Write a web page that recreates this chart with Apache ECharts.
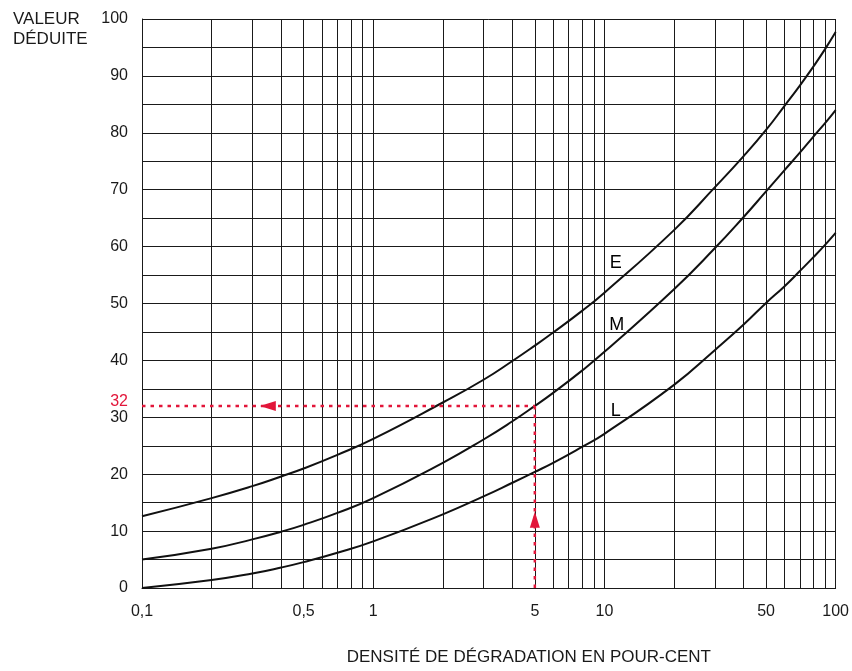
<!DOCTYPE html>
<html>
<head>
<meta charset="utf-8">
<script src="https://cdn.jsdelivr.net/npm/echarts@6/dist/echarts.min.js"></script>
<style>
  html, body { margin: 0; padding: 0; background: #fff; }
  #chart { width: 852px; height: 671px; }
</style>
</head>
<body>
<div id="chart"></div>
<script>
// Densité de dégradation (%), échelle logarithmique
const density = [0.1, 0.2, 0.3, 0.4, 0.5, 0.7, 1, 2, 3, 4, 5, 6, 8, 10, 20, 30, 40, 50, 60, 70, 80, 90, 100];
// Valeur déduite pour chaque courbe de sévérité
const curveE = [12.6, 15.8, 17.9, 19.6, 21.0, 23.4, 26.2, 32.6, 36.6, 39.9, 42.6, 44.9, 48.7, 51.9, 62.9, 70.4, 75.9, 80.5, 84.7, 88.3, 91.6, 94.7, 97.7];
const curveM = [5.0, 6.9, 8.55, 9.9, 11.1, 13.2, 15.8, 22.0, 26.1, 29.3, 32.0, 34.3, 38.2, 41.5, 52.5, 59.7, 65.2, 69.7, 73.4, 76.5, 79.3, 81.7, 84.0];
const curveL = [0.0, 1.4, 2.55, 3.6, 4.55, 6.2, 8.2, 12.95, 16.1, 18.5, 20.4, 22.0, 24.8, 27.1, 35.7, 41.8, 46.3, 50.1, 53.0, 55.7, 58.1, 60.3, 62.4];

const curveNames = ['E', 'M', 'L'];
const curveNameAt = [[11.2, 57.1], [11.3, 46.3], [11.2, 31.1]];

// Graduations
const xLabelValues = [0.1, 0.5, 1, 5, 10, 50, 100];
const yLabelValues = [0, 10, 20, 30, 32, 40, 50, 60, 70, 80, 90, 100];
const minorDensity = [0.2, 0.3, 0.4, 0.5, 0.6, 0.7, 0.8, 0.9, 2, 3, 4, 5, 6, 7, 8, 9, 20, 30, 40, 50, 60, 70, 80, 90];

// Exemple de lecture : densité 5 % sur la courbe M
const exampleDensity = 5;
const exampleValue = 32;
const arrowLeftAt = [0.35, 32];
const arrowUpAt = [5, 12];

const RED = '#e2163a';
const INK = '#1a1a1a';
const FONT = '"Liberation Sans", Arial, Helvetica, sans-serif';

const zip = (xs, ys) => xs.map((x, i) => [x, ys[i]]);
const curveSeries = [curveE, curveM, curveL].map((vals, i) => ({
  name: curveNames[i],
  type: 'line',
  data: zip(density, vals),
  smooth: 0.5,
  showSymbol: false,
  symbol: 'none',
  silent: true,
  z: 5,
  lineStyle: { color: '#111', width: 2 }
}));

const chart = echarts.init(document.getElementById('chart'), null, { renderer: 'canvas' });
chart.setOption({
  animation: false,
  backgroundColor: '#fff',
  textStyle: { fontFamily: FONT },
  title: {
    text: 'VALEUR\nDÉDUITE',
    left: 8,
    top: 4,
    textStyle: { fontFamily: FONT, fontSize: 17, fontWeight: 'normal', color: INK, lineHeight: 20 }
  },
  grid: { left: 142, top: 19, width: 695, height: 570, containLabel: false },
  xAxis: {
    type: 'log',
    logBase: 10,
    min: 0.1,
    max: 100,
    name: 'DENSITÉ DE DÉGRADATION EN POUR-CENT',
    nameLocation: 'middle',
    nameGap: 61,
    nameTextStyle: { fontFamily: FONT, fontSize: 17, color: INK, padding: [0, 0, 0, 80] },
    axisLine: { show: true, lineStyle: { color: INK, width: 1 } },
    axisTick: { show: false },
    axisLabel: {
      customValues: xLabelValues,
      formatter: v => String(v).replace('.', ','),
      fontSize: 16,
      color: INK,
      margin: 16
    },
    splitLine: { show: true, lineStyle: { color: INK, width: 1 } }
  },
  yAxis: {
    type: 'value',
    min: 0,
    max: 100,
    interval: 5,
    axisLine: { show: true, lineStyle: { color: INK, width: 1 } },
    axisTick: { show: false },
    axisLabel: {
      customValues: yLabelValues,
      formatter: v => (v === exampleValue ? '{r|' + v + '}' : String(v)),
      fontSize: 16,
      color: INK,
      margin: 14,
      rich: { r: { color: RED, fontSize: 16, fontFamily: FONT, padding: [0, 0, 9, 0] } }
    },
    splitLine: { show: true, lineStyle: { color: INK, width: 1 } }
  },
  series: [
    {
      // lignes secondaires de l'échelle logarithmique
      type: 'line',
      data: [],
      silent: true,
      markLine: {
        silent: true,
        symbol: 'none',
        label: { show: false },
        lineStyle: { color: INK, width: 1, type: 'solid' },
        data: minorDensity.map(v => ({ xAxis: v }))
      }
    },
    ...curveSeries,
    {
      type: 'line',
      data: [[density[0], exampleValue], [exampleDensity, exampleValue]],
      symbol: 'none',
      silent: true,
      z: 6,
      lineStyle: { color: RED, width: 2.5, type: [3.5, 5] }
    },
    {
      type: 'line',
      data: [[exampleDensity, 0], [exampleDensity, exampleValue]],
      symbol: 'none',
      silent: true,
      z: 6,
      lineStyle: { color: RED, width: 2.5, type: [3.5, 5] }
    },
    {
      type: 'scatter',
      silent: true,
      z: 7,
      symbol: 'triangle',
      symbolSize: [10, 16],
      itemStyle: { color: RED, opacity: 1 },
      data: [
        { value: arrowLeftAt, symbolRotate: 90 },
        { value: arrowUpAt, symbolRotate: 0 }
      ]
    },
    {
      type: 'scatter',
      silent: true,
      z: 8,
      symbolSize: 1,
      itemStyle: { color: 'rgba(0,0,0,0)', opacity: 1 },
      label: {
        show: true,
        position: 'inside',
        formatter: '{b}',
        fontFamily: FONT,
        fontSize: 18,
        color: '#000'
      },
      data: curveNames.map((n, i) => ({ name: n, value: curveNameAt[i] }))
    }
  ]
});
</script>
</body>
</html>
